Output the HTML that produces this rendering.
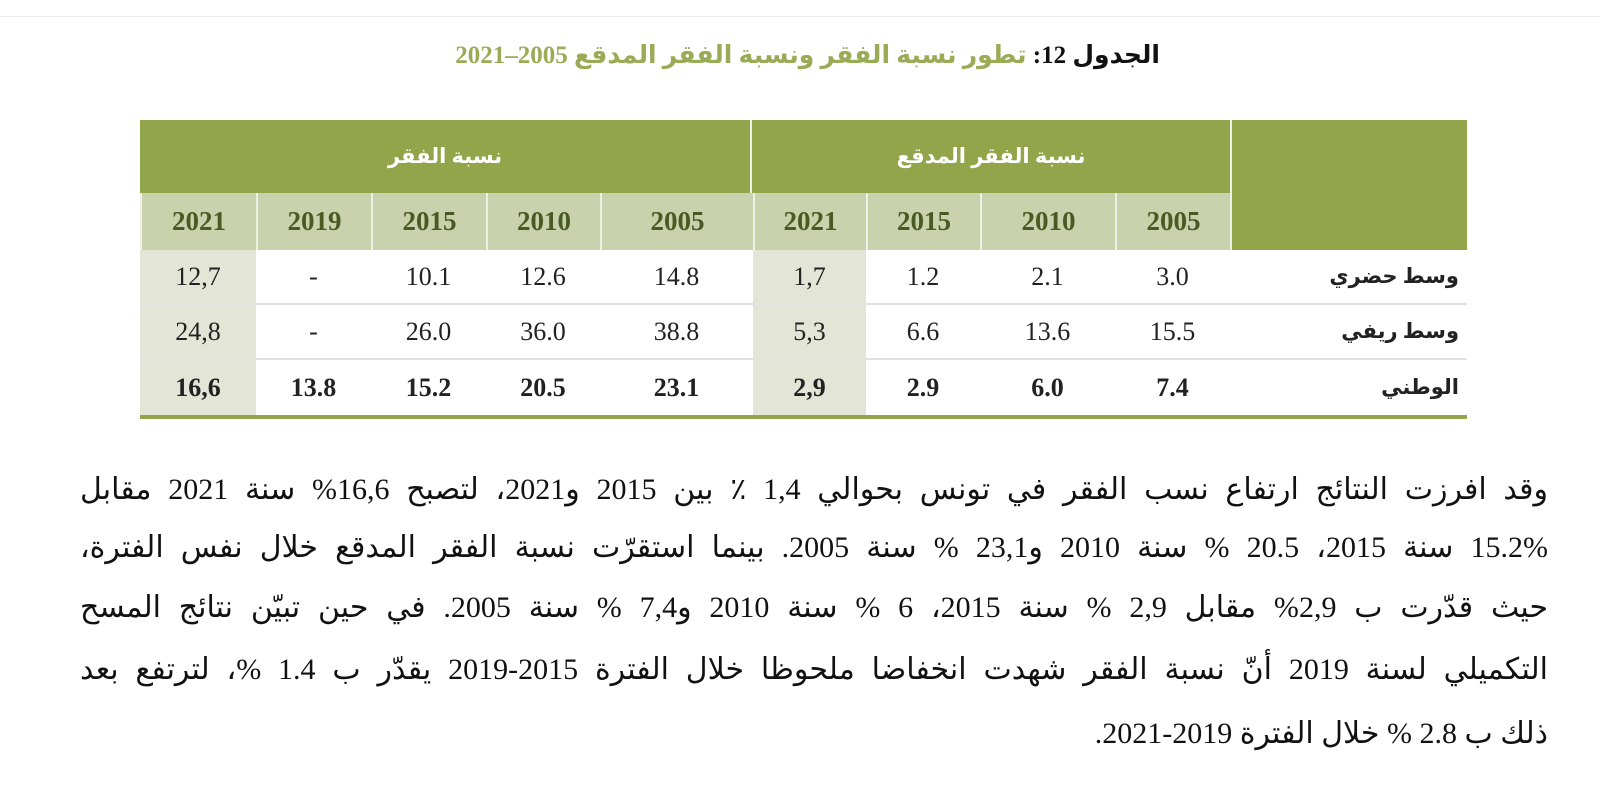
<!DOCTYPE html>
<html><head><meta charset="utf-8">
<style>
body{margin:0;width:1600px;height:797px;background:#fff;position:relative;overflow:hidden;font-family:"Liberation Serif","DejaVu Sans",serif;}
.topline{position:absolute;left:0;top:16px;width:1600px;height:1px;background:#ececec}
.title{position:absolute;left:300px;width:860px;top:40px;text-align:right;direction:rtl;font-weight:bold;font-size:25px;color:#9aab55;white-space:nowrap}
.title b{color:#111}
.c{position:absolute;display:flex;align-items:center;justify-content:center;box-sizing:border-box;font-size:26px}
.h1{background:#93a54a;color:#fff;font-weight:bold;font-size:21px;direction:rtl}
.h2{background:#c9d2ad;color:#4a5a22;font-weight:bold;font-size:27px;border-left:2px solid #eef1e4}
.d{color:#222;border-bottom:2px solid #e2e2e2}
.g{background:#e3e6d6}
.bd{font-weight:bold;border-bottom:none}
.lab{justify-content:flex-start;padding-right:8px;font-weight:bold;font-size:21px;direction:rtl}
.p{position:absolute;left:80px;width:1468px;direction:rtl;font-size:30px;color:#111;text-align:justify;text-align-last:justify;white-space:nowrap}
</style></head><body>
<div class="topline"></div>
<div class="title"><b>الجدول 12:</b> تطور نسبة الفقر ونسبة الفقر المدقع 2005–2021</div>

<div class="c h1" style="left:140px;top:120px;width:612px;height:73px;border-right:2px solid #eef1e4">نسبة الفقر</div>
<div class="c h1" style="left:752px;top:120px;width:478px;height:73px">نسبة الفقر المدقع</div>
<div class="c h1" style="left:1230px;top:120px;width:237px;height:130px;border-left:2px solid #eef1e4"></div>

<div class="c h2" style="left:140px;top:193px;width:116px;height:57px">2021</div>
<div class="c h2" style="left:256px;top:193px;width:115px;height:57px">2019</div>
<div class="c h2" style="left:371px;top:193px;width:115px;height:57px">2015</div>
<div class="c h2" style="left:486px;top:193px;width:114px;height:57px">2010</div>
<div class="c h2" style="left:600px;top:193px;width:153px;height:57px">2005</div>
<div class="c h2" style="left:753px;top:193px;width:113px;height:57px">2021</div>
<div class="c h2" style="left:866px;top:193px;width:114px;height:57px">2015</div>
<div class="c h2" style="left:980px;top:193px;width:135px;height:57px">2010</div>
<div class="c h2" style="left:1115px;top:193px;width:115px;height:57px">2005</div>

<div class="c d g" style="left:140px;top:250px;width:116px;height:55px">12,7</div>
<div class="c d" style="left:256px;top:250px;width:115px;height:55px">-</div>
<div class="c d" style="left:371px;top:250px;width:115px;height:55px">10.1</div>
<div class="c d" style="left:486px;top:250px;width:114px;height:55px">12.6</div>
<div class="c d" style="left:600px;top:250px;width:153px;height:55px">14.8</div>
<div class="c d g" style="left:753px;top:250px;width:113px;height:55px">1,7</div>
<div class="c d" style="left:866px;top:250px;width:114px;height:55px">1.2</div>
<div class="c d" style="left:980px;top:250px;width:135px;height:55px">2.1</div>
<div class="c d" style="left:1115px;top:250px;width:115px;height:55px">3.0</div>
<div class="c d lab" style="left:1230px;top:250px;width:237px;height:55px">وسط حضري</div>

<div class="c d g" style="left:140px;top:305px;width:116px;height:55px">24,8</div>
<div class="c d" style="left:256px;top:305px;width:115px;height:55px">-</div>
<div class="c d" style="left:371px;top:305px;width:115px;height:55px">26.0</div>
<div class="c d" style="left:486px;top:305px;width:114px;height:55px">36.0</div>
<div class="c d" style="left:600px;top:305px;width:153px;height:55px">38.8</div>
<div class="c d g" style="left:753px;top:305px;width:113px;height:55px">5,3</div>
<div class="c d" style="left:866px;top:305px;width:114px;height:55px">6.6</div>
<div class="c d" style="left:980px;top:305px;width:135px;height:55px">13.6</div>
<div class="c d" style="left:1115px;top:305px;width:115px;height:55px">15.5</div>
<div class="c d lab" style="left:1230px;top:305px;width:237px;height:55px">وسط ريفي</div>

<div class="c d g bd" style="left:140px;top:360px;width:116px;height:55px">16,6</div>
<div class="c d bd" style="left:256px;top:360px;width:115px;height:55px">13.8</div>
<div class="c d bd" style="left:371px;top:360px;width:115px;height:55px">15.2</div>
<div class="c d bd" style="left:486px;top:360px;width:114px;height:55px">20.5</div>
<div class="c d bd" style="left:600px;top:360px;width:153px;height:55px">23.1</div>
<div class="c d g bd" style="left:753px;top:360px;width:113px;height:55px">2,9</div>
<div class="c d bd" style="left:866px;top:360px;width:114px;height:55px">2.9</div>
<div class="c d bd" style="left:980px;top:360px;width:135px;height:55px">6.0</div>
<div class="c d bd" style="left:1115px;top:360px;width:115px;height:55px">7.4</div>
<div class="c d lab bd" style="left:1230px;top:360px;width:237px;height:55px">الوطني</div>
<div style="position:absolute;left:140px;top:415px;width:1327px;height:4px;background:#93a54a"></div>

<div class="p" style="top:472px">وقد افرزت النتائج ارتفاع نسب الفقر في تونس بحوالي 1,4 ٪ بين 2015 و2021، لتصبح 16,6% سنة 2021 مقابل</div>
<div class="p" style="top:530px">15.2% سنة 2015، 20.5 % سنة 2010 و23,1 % سنة 2005. بينما استقرّت نسبة الفقر المدقع خلال نفس الفترة،</div>
<div class="p" style="top:590px">حيث قدّرت ب 2,9% مقابل 2,9 % سنة 2015، 6 % سنة 2010 و7,4 % سنة 2005. في حين تبيّن نتائج المسح</div>
<div class="p" style="top:652px">التكميلي لسنة 2019 أنّ نسبة الفقر شهدت انخفاضا ملحوظا خلال الفترة 2015-2019 يقدّر ب 1.4 %، لترتفع بعد</div>
<div class="p" style="top:716px;text-align:right;text-align-last:right">ذلك ب 2.8 % خلال الفترة 2019-2021.</div>
</body></html>
